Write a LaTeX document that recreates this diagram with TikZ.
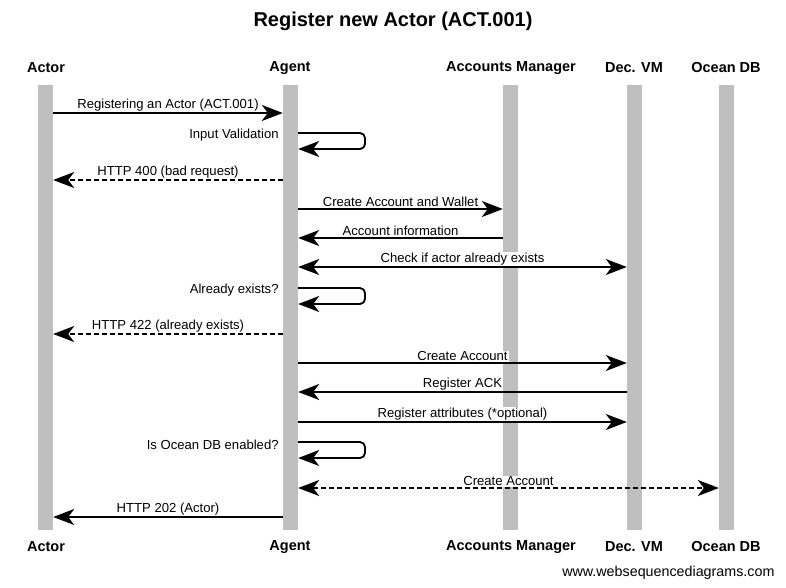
\documentclass[tikz,border=0pt]{standalone}
\usepackage{fontspec}
\setmainfont{Liberation Sans}
\usetikzlibrary{arrows.meta}
\tikzset{x=1pt, y=-1pt,
  lifeline/.style   = {fill=black!25, draw=none, minimum width=15pt,
                       minimum height=445pt, inner sep=0pt},
  participant/.style= {font=\fontsize{14.5}{16}\selectfont\bfseries, inner sep=1pt},
  msgLabel/.style   = {font=\fontsize{13.1}{15}\selectfont, fill=white,
                       inner sep=1pt, above=0.3pt},
  selfLabel/.style  = {font=\fontsize{13.1}{15}\selectfont, anchor=east,
                       inner sep=1pt, xshift=-3pt, yshift=-2.5pt},
  msg/.style        = {line width=1.8pt, -{Stealth[length=21pt,width=16pt,inset=6pt]}},
  reply/.style      = {msg, dash pattern=on 5pt off 3pt},
  both/.style       = {line width=1.8pt,
                       {Stealth[length=21pt,width=16pt,inset=6pt]}-{Stealth[length=21pt,width=16pt,inset=6pt]}},
  selfMsg/.style    = {msg, rounded corners=5pt}
}
\newcommand{\selfcall}[3]{
  \coordinate (#1a) at (0,#2);
  \coordinate (#1b) at (365,#2+16);
  \draw[selfMsg] (agentL.east |- #1a) -- (#1b |- #1a) -- (#1b)
                 -- (agentL.east |- #1b);
  \node[selfLabel] (#1t) at (agentL.west |- #1a) {#3};
}

\begin{document}
\begin{tikzpicture}
	\useasboundingbox (0,0) rectangle (786,588);
	\node[font=\fontsize{20}{22}\selectfont\bfseries] (title) at (393,21) {Register new Actor (ACT.001)};
	% lifelines
	\node[lifeline] (actorL)   at (45.5,307.5) {};
	\node[lifeline] (agentL)   at (290.5,307.5) {};
	\node[lifeline] (managerL) at (510.5,307.5) {};
	\node[lifeline] (vmL)      at (634.5,307.5) {};
	\node[lifeline] (oceanL)   at (726.5,307.5) {};
	% participants
	\foreach \n/\x/\t in {actor/46/Actor, agent/290/Agent, manager/511/Accounts Manager,
	                      vm/634/Dec. VM, ocean/726/Ocean DB}{
		\node[participant] (\n Top) at (\x,68) {\t};
		\node[participant] (\n Bot) at (\x,547) {\t};
	}
	% messages
	\coordinate (r1)  at (0,113);
	\coordinate (r3)  at (0,180);
	\coordinate (r4)  at (0,209);
	\coordinate (r5)  at (0,238);
	\coordinate (r6)  at (0,267);
	\coordinate (r8)  at (0,334);
	\coordinate (r9)  at (0,363);
	\coordinate (r10) at (0,392);
	\coordinate (r11) at (0,422);
	\coordinate (r13) at (0,488);
	\coordinate (r14) at (0,517);
	\draw[msg]   (actorL.east |- r1) -- (agentL.west |- r1)
	             node[msgLabel, midway] (m1) {Registering an Actor (ACT.001)};
	\selfcall{s2}{133}{Input Validation}
	\draw[reply] (agentL.west |- r3) -- (actorL.east |- r3)
	             node[msgLabel, midway] (m3) {HTTP 400 (bad request)};
	\draw[msg]   (agentL.east |- r4) -- (managerL.west |- r4)
	             node[msgLabel, midway] (m4) {Create Account and Wallet};
	\draw[msg]   (managerL.west |- r5) -- (agentL.east |- r5)
	             node[msgLabel, midway] (m5) {Account information};
	\draw[both]  (agentL.east |- r6) -- (vmL.west |- r6)
	             node[msgLabel, midway] (m6) {Check if actor already exists};
	\selfcall{s7}{288}{Already exists?}
	\draw[reply] (agentL.west |- r8) -- (actorL.east |- r8)
	             node[msgLabel, midway] (m8) {HTTP 422 (already exists)};
	\draw[msg]   (agentL.east |- r9) -- (vmL.west |- r9)
	             node[msgLabel, midway] (m9) {Create Account};
	\draw[msg]   (vmL.west |- r10) -- (agentL.east |- r10)
	             node[msgLabel, midway] (m10) {Register ACK};
	\draw[msg]   (agentL.east |- r11) -- (vmL.west |- r11)
	             node[msgLabel, midway] (m11) {Register attributes (*optional)};
	\selfcall{s12}{442}{Is Ocean DB enabled?}
	\draw[both, dash pattern=on 5pt off 3pt] (agentL.east |- r13) -- (oceanL.west |- r13)
	             node[msgLabel, midway] (m13) {Create Account};
	\draw[msg]   (agentL.west |- r14) -- (actorL.east |- r14)
	             node[msgLabel, midway] (m14) {HTTP 202 (Actor)};
	\node[font=\fontsize{14.3}{16}\selectfont, anchor=east] (site) at (778,573) {www.websequencediagrams.com};
\end{tikzpicture}
\end{document}
